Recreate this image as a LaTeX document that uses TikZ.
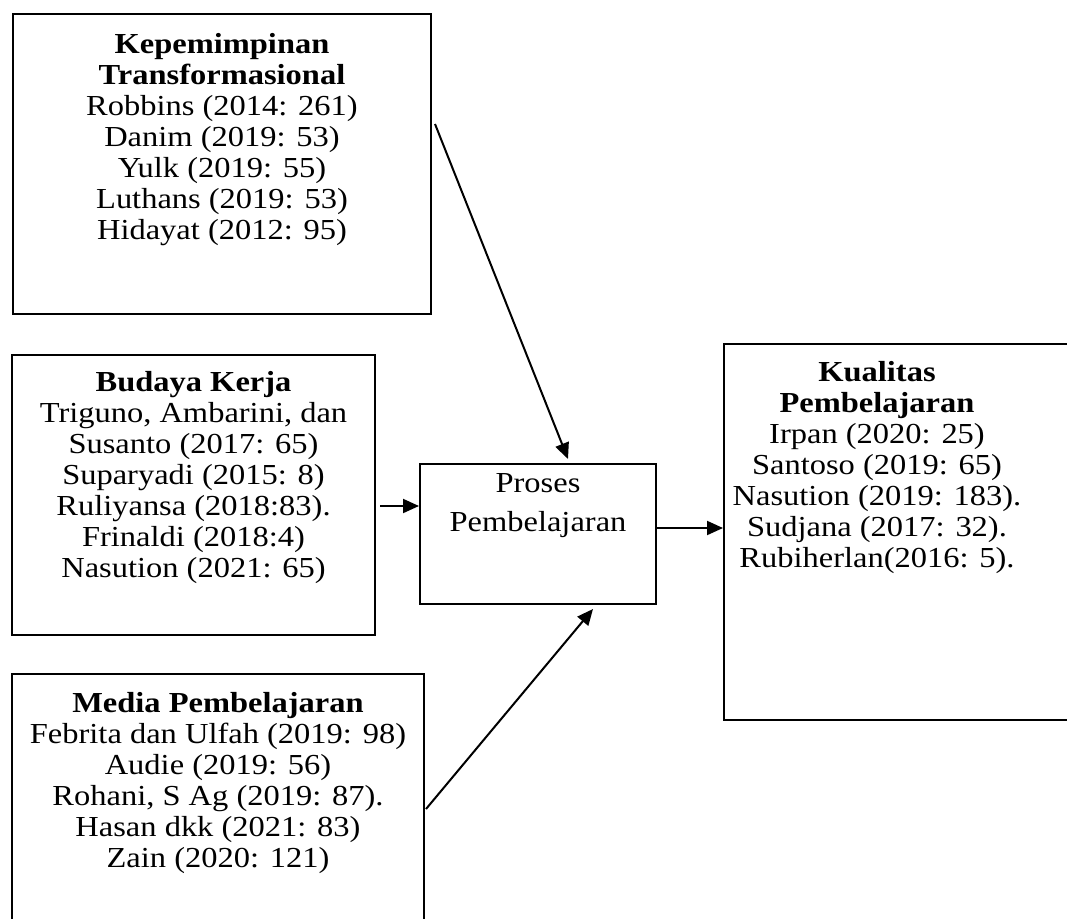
\documentclass[tikz,border=0pt]{standalone}
\usepackage{fontspec}
\setmainfont{Liberation Serif}[FakeStretch=1.12]
\usetikzlibrary{positioning, arrows.meta, calc}

\begin{document}
\begin{tikzpicture}[x=1pt, y=-1pt,
    % Box and text styles
    refbox/.style={
        rectangle,
        draw=black,
        line width=2pt,
        inner sep=0pt,
        anchor=north west
    },
    reftext/.style={
        anchor=north,
        inner sep=0pt,
        align=center,
        font=\fontsize{29}{31}\selectfont
    },
    arrow/.style={
        -{Triangle[length=16pt,width=14pt]},
        line width=2pt,
        black
    }
]
\useasboundingbox (0,0) rectangle (1067,918);
\clip (0,0) rectangle (1067,918);

% === Left: three sources ===
\node[refbox, minimum width=418pt, minimum height=300pt] (kepbox) at (12,13) {};
\node[reftext] (kep) at ([yshift=-20pt]kepbox.north) {
    \textbf{Kepemimpinan}\\
    \textbf{Transformasional}\\
    Robbins (2014: 261)\\
    Danim (2019: 53)\\
    Yulk (2019: 55)\\
    Luthans (2019: 53)\\
    Hidayat (2012: 95)
};

\node[refbox, minimum width=363pt, minimum height=280pt] (budbox) at (11,354) {};
\node[reftext] (bud) at ([yshift=-17pt]budbox.north) {
    \textbf{Budaya Kerja}\\
    Triguno, Ambarini, dan\\
    Susanto (2017: 65)\\
    Suparyadi (2015: 8)\\
    Ruliyansa (2018:83).\\
    Frinaldi (2018:4)\\
    Nasution (2021: 65)
};

\node[refbox, minimum width=412pt, minimum height=280pt] (medbox) at (11,673) {};
\node[reftext] (med) at ([yshift=-19pt]medbox.north) {
    \textbf{Media Pembelajaran}\\
    Febrita dan Ulfah (2019: 98)\\
    Audie (2019: 56)\\
    Rohani, S Ag (2019: 87).\\
    Hasan dkk (2021: 83)\\
    Zain (2020: 121)
};

% === Middle: process ===
\node[refbox, minimum width=236pt, minimum height=140pt] (probox) at (419,463) {};
\node[reftext, font=\fontsize{29}{39}\selectfont] (pro) at ([yshift=-10pt]probox.north) {
    Proses\\Pembelajaran
};

% === Right: outcome ===
\node[refbox, minimum width=360pt, minimum height=376pt] (kualbox) at (723,343) {};
\node[reftext] (kual) at ([xshift=-27pt,yshift=-18pt]kualbox.north) {
    \textbf{Kualitas}\\
    \textbf{Pembelajaran}\\
    Irpan (2020: 25)\\
    Santoso (2019: 65)\\
    Nasution (2019: 183).\\
    Sudjana (2017: 32).\\
    Rubiherlan(2016: 5).
};

% === Arrows ===
\coordinate (budout) at ($(budbox.east)+(4,11)$);
\coordinate (proout) at ([yshift=6pt]probox.east);
\draw[arrow] ([xshift=3pt,yshift=40pt]kepbox.east) -- ([xshift=30pt,yshift=4pt]probox.north);
\draw[arrow] (budout) -- (budout -| probox.west);
\draw[arrow] ([xshift=1pt,yshift=5pt]medbox.east) -- ([xshift=55pt,yshift=-4pt]probox.south);
\draw[arrow] (proout) -- (proout -| kualbox.west);

\end{tikzpicture}
\end{document}
